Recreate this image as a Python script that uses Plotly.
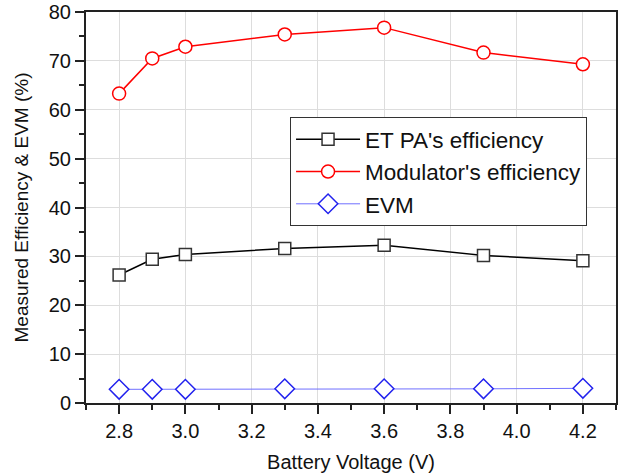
import plotly.graph_objects as go

voltage = [2.8, 2.9, 3.0, 3.3, 3.6, 3.9, 4.2]
et_pa_eff = [26.2, 29.4, 30.4, 31.6, 32.3, 30.2, 29.1]
modulator_eff = [63.3, 70.5, 72.9, 75.4, 76.8, 71.7, 69.3]
evm = [2.8, 2.8, 2.8, 2.9, 2.9, 2.9, 3.0]

fig = go.Figure()
fig.add_trace(go.Scatter(x=voltage, y=et_pa_eff, mode="lines+markers", name="ET PA's efficiency",
                         line=dict(color="#000000", width=1.5),
                         marker=dict(symbol="square", size=12, color="white", line=dict(color="#333333", width=1.5))))
fig.add_trace(go.Scatter(x=voltage, y=modulator_eff, mode="lines+markers", name="Modulator's efficiency",
                         line=dict(color="#ff0000", width=1.5),
                         marker=dict(symbol="circle", size=13, color="white", line=dict(color="#ff0000", width=1.5))))
fig.add_trace(go.Scatter(x=voltage, y=evm, mode="lines+markers", name="EVM",
                         line=dict(color="#7070ff", width=1),
                         marker=dict(symbol="diamond", size=15, color="white", line=dict(color="#2222ee", width=1.5))))

font = "Liberation Sans, Arial, sans-serif"
fig.update_layout(
    width=621, height=474,
    margin=dict(l=86, r=5, t=12, b=71),
    paper_bgcolor="white", plot_bgcolor="white",
    font=dict(family=font, size=20, color="#111111"),
    legend=dict(x=0.385, y=0.731, xanchor="left", yanchor="top",
                bordercolor="#333333", borderwidth=1, bgcolor="white",
                font=dict(size=22.5), tracegroupgap=0, itemwidth=64),
    showlegend=True,
)
fig.update_xaxes(range=[2.7, 4.3], tickvals=[2.8, 3.0, 3.2, 3.4, 3.6, 3.8, 4.0, 4.2],
                 ticktext=["2.8", "3.0", "3.2", "3.4", "3.6", "3.8", "4.0", "4.2"],
                 ticks="outside", ticklen=9, tickwidth=1.5, tickcolor="#222",
                 minor=dict(dtick=0.1, tick0=2.7, ticks="outside", ticklen=5, tickcolor="#222", showgrid=False),
                 showline=True, linecolor="#222", linewidth=2, mirror=True,
                 showgrid=True, gridcolor="#dddddd", gridwidth=1, zeroline=False, automargin=False,
                 ticklabeloverflow="allow",
                 title=dict(text="Battery Voltage (V)", font=dict(size=20), standoff=14),
                 tickfont=dict(size=20))
fig.update_yaxes(range=[0, 80], dtick=10, tick0=0,
                 ticks="outside", ticklen=9, tickwidth=1.5, tickcolor="#222",
                 minor=dict(dtick=5, ticks="outside", ticklen=5, tickcolor="#222", showgrid=False),
                 showline=True, linecolor="#222", linewidth=2, mirror=True,
                 showgrid=True, gridcolor="#dddddd", gridwidth=1, zeroline=False, automargin=False,
                 ticklabeloverflow="allow",
                 title=dict(text="Measured Efficiency & EVM (%)", font=dict(size=19), standoff=15),
                 tickfont=dict(size=20))

fig.write_html("out.html", config={"displayModeBar": False},
               post_script="document.body.style.margin='0px'; document.body.style.overflow='hidden';")
